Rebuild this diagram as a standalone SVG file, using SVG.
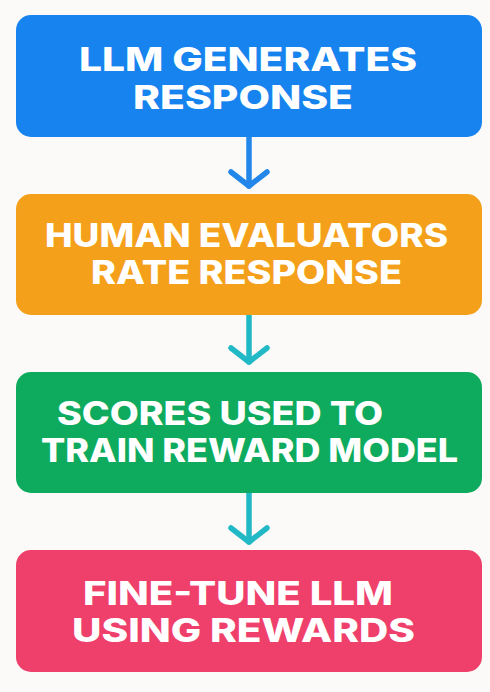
<svg xmlns="http://www.w3.org/2000/svg" width="490" height="692" viewBox="0 0 490 692">
<style>
.t{font-family:Inter,"Open Sans","Liberation Sans",sans-serif;font-weight:800;font-size:32px;fill:#ffffff}
.c{fill:none;stroke-width:5.5;stroke-linecap:round;stroke-linejoin:round}
</style>
<rect width="490" height="692" fill="#fbfaf8"/>
<g id="connectors">
<g class="c" stroke="#2386ea">
<path d="M249 137 V186"/>
<path d="M231 172 L249 186 L267 172"/>
</g>
<g class="c" stroke="#22b9c6">
<path d="M249 315 V362"/>
<path d="M231 348 L249 362 L267 348"/>
</g>
<g class="c" stroke="#22b9c6">
<path d="M249 493 V542"/>
<path d="M231 528 L249 542 L267 528"/>
</g>
</g>
<g id="node1">
<rect x="16" y="15" width="466" height="122" rx="15" fill="#1783ee"/>
<text class="t" x="79" y="71" textLength="338" lengthAdjust="spacingAndGlyphs">LLM GENERATES</text>
<text class="t" x="133" y="109" textLength="220" lengthAdjust="spacingAndGlyphs">RESPONSE</text>
</g>
<g id="node2">
<rect x="16" y="194" width="466" height="121" rx="15" fill="#f5a01b"/>
<text class="t" x="45" y="247" textLength="403" lengthAdjust="spacingAndGlyphs">HUMAN EVALUATORS</text>
<text class="t" x="91" y="284" textLength="311" lengthAdjust="spacingAndGlyphs">RATE RESPONSE</text>
</g>
<g id="node3">
<rect x="16" y="372" width="466" height="121" rx="15" fill="#0eab5e"/>
<text class="t" x="57" y="425" textLength="326" lengthAdjust="spacingAndGlyphs">SCORES USED TO</text>
<text class="t" x="41" y="462" textLength="417" lengthAdjust="spacingAndGlyphs">TRAIN REWARD MODEL</text>
</g>
<g id="node4">
<rect x="16" y="550" width="466" height="122" rx="15" fill="#ef3f6b"/>
<text class="t" x="83" y="605" textLength="310" lengthAdjust="spacingAndGlyphs">FINE-TUNE LLM</text>
<text class="t" x="72" y="642" textLength="343" lengthAdjust="spacingAndGlyphs">USING REWARDS</text>
</g>
</svg>
